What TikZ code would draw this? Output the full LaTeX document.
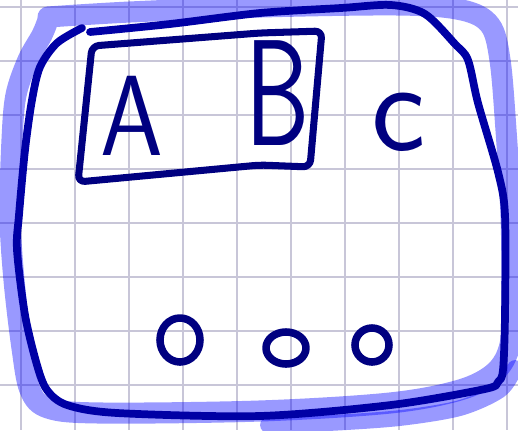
\documentclass[tikz,border=0pt]{standalone}
\usepackage{fontspec}
\usepackage{xcolor}
\usepackage{tikz}
\definecolor{ink}{RGB}{0,0,128}
\definecolor{rimc}{RGB}{0,0,165}
\definecolor{gridc}{RGB}{200,198,216}

\begin{document}
\begin{tikzpicture}[x=0.02cm, y=-0.02cm,
  gridline/.style = {draw=gridc, line width=0.7pt},
  glow/.style     = {draw=blue, draw opacity=0.4, line width=12pt,
                     line cap=round, line join=round},
  rim/.style      = {draw=rimc, line width=4.4pt, line cap=round, line join=round},
  pen/.style      = {draw=ink, line width=4pt, line cap=round, line join=round},
  letter/.style   = {text=ink, font=\sffamily, anchor=base, inner sep=0pt}
]
\useasboundingbox (0,0) rectangle (518,430);
\fill[white] (0,0) rectangle (518,430);

% --- grid paper ---
\foreach \x in {21,75,...,507} { \draw[gridline] (\x,0) -- (\x,430); }
\foreach \y in {7,61,...,385} { \draw[gridline] (0,\y) -- (518,\y); }

% --- highlight round the frame ---
\draw[glow] plot[smooth, tension=0.55] coordinates {
  (48,17) (130,12) (260,7) (400,5) (462,10) (490,25) (500,60) (506,130)
  (511,215) (512,300) (510,345) (495,372) (460,390) (390,403) (260,411)
  (100,413) (48,408) (30,390) (22,348) (14,280) (10,215) (12,140) (16,95)
  (28,60) (42,35) (48,20)};
\draw[glow, line width=9pt] plot[smooth] coordinates {
  (268,425) (330,423) (400,418) (460,408) (500,390) (515,368)};

% --- outer frame ---
\draw[rim] plot[smooth, tension=0.5] coordinates {
  (82,28) (57,43) (40,67) (32,100) (25,150) (19,215) (17,250) (25,315)
  (37,365) (47,390) (67,405) (117,413) (260,416) (391,405) (485,389)
  (498,382) (503,370) (505,315) (505,215) (498,172) (478,103) (468,60)
  (455,44) (425,14) (391,5) (341,8) (260,13) (170,24) (90,32)};

% --- box round A and B ---
\draw[pen, rounded corners=4] (92,46) -- (260,33) -- (322,31) -- (310,167)
  -- (260,165) -- (78,182) -- cycle;

% --- letters ---
\node[letter, xscale=0.88, font=\sffamily\fontsize{65}{65}\selectfont] (A) at (132,155) {A};
\node[letter, xscale=0.68, font=\sffamily\fontsize{86}{86}\selectfont] (B) at (278,145) {B};
\node[letter, font=\sffamily\fontsize{74}{74}\selectfont] (C) at (399,150) {c};

% --- three dots ---
\foreach \cx/\cy/\rx/\ry in {180/340/20/22, 286/348/20/16, 372/345/17/17} {
  \draw[pen, line width=4.3pt] (\cx,\cy) ellipse [x radius=\rx, y radius=\ry];
}
\end{tikzpicture}
\end{document}
